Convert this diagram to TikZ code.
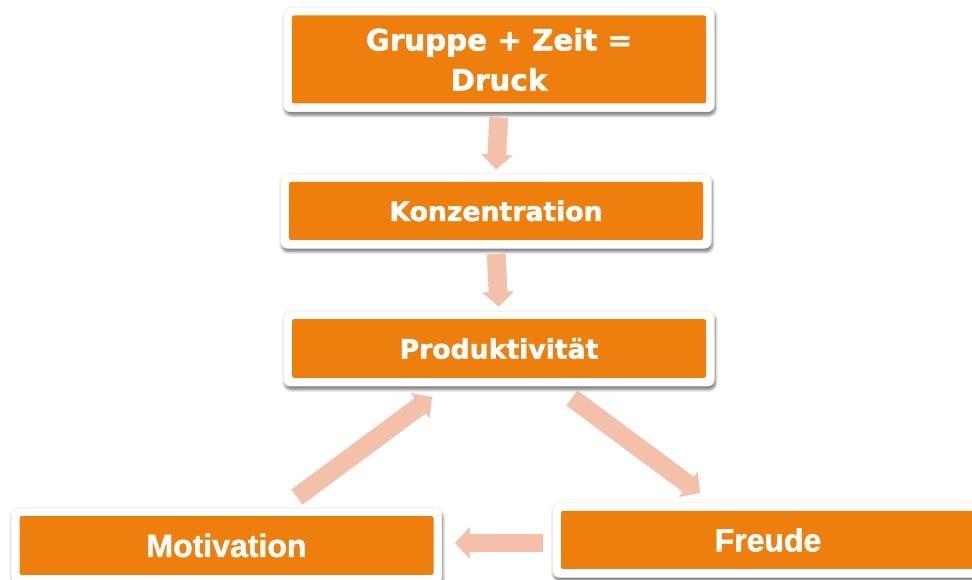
\documentclass[tikz,border=0pt]{standalone}
\usepackage{fontspec}
\setmainfont{DejaVu Sans}[BoldFeatures={FakeBold=1.6}]
\newfontfamily\narrowfont{Liberation Sans}[BoldFeatures={FakeBold=1.4}]
\usetikzlibrary{shadows.blur,fit,backgrounds,arrows.meta}

\definecolor{boxorange}{RGB}{239,127,12}
\definecolor{arrowpink}{RGB}{244,192,170}

\begin{document}
\begin{tikzpicture}[x=0.75pt,y=-0.75pt,
  card/.style={fill=boxorange, text=white, font=\bfseries\fontsize{20}{30}\selectfont,
    rounded corners=1.5pt, minimum width=310.5pt, align=center, inner sep=0pt},
  bigcard/.style={card, font=\bfseries\fontsize{22}{30}\selectfont},
  slimcard/.style={card, font=\narrowfont\bfseries\fontsize{24}{30}\selectfont},
  frame/.style={fill=white, draw=black!7, line width=0.6pt, rounded corners=5pt, inner sep=6pt,
    blur shadow={shadow xshift=0.8pt, shadow yshift=-2.5pt, shadow blur steps=6,
      shadow blur extra rounding=2pt, shadow opacity=55}},
  flow/.style={draw=arrowpink, line width=14pt, -{Triangle[width=23pt,length=11pt]}},
  flowshade/.style={draw=black, opacity=0.12, line width=14pt, -{Triangle[width=23pt,length=11pt]}}
]
\useasboundingbox (0,0) rectangle (972,580);

% orange cards
\node[bigcard, minimum height=66pt] (b1) at (499,59.5) {Gruppe + Zeit =\\Druck};
\node[card, minimum height=43.5pt] (b2) at (496,211) {Konzentration};
\node[card, minimum height=44pt] (b3) at (499,348.5) {Produktivität};
\node[slimcard, minimum height=44pt] (b4) at (226.5,545.5) {Motivation};
\node[slimcard, minimum height=43.5pt] (b5) at (768,540) {Freude};

% white frames with shadows behind the cards
\begin{scope}[on background layer]
  \node[frame, fit=(b1)] (f1) {};
  \node[frame, fit=(b2)] (f2) {};
  \node[frame, fit=(b3)] (f3) {};
  \node[frame, fit=(b4)] (f4) {};
  \node[frame, fit=(b5)] (f5) {};
\end{scope}

% ends of the slanted and sideways arrows
\coordinate (m0) at (297,497);
\coordinate (m1) at (432,397);
\coordinate (r0) at (572,398);
\coordinate (r1) at (700,493);
\coordinate (s0) at (543,543);
\coordinate (s1) at (455,543);

% faint shading under the arrows
\begin{scope}[xshift=1.5pt, yshift=-1.5pt]
  \draw[flowshade, shorten <=4pt, shorten >=3pt] (f1.south) -- (f2.north);
  \draw[flowshade, shorten <=4pt, shorten >=3pt] (f2.south) -- (f3.north);
  \draw[flowshade] (m0) -- (m1);
  \draw[flowshade] (r0) -- (r1);
  \draw[flowshade] (s0) -- (s1);
\end{scope}

% arrows
\draw[flow, shorten <=4pt, shorten >=3pt] (f1.south) -- (f2.north);
\draw[flow, shorten <=4pt, shorten >=3pt] (f2.south) -- (f3.north);
\draw[flow] (m0) -- (m1);
\draw[flow] (r0) -- (r1);
\draw[flow] (s0) -- (s1);
\end{tikzpicture}
\end{document}
